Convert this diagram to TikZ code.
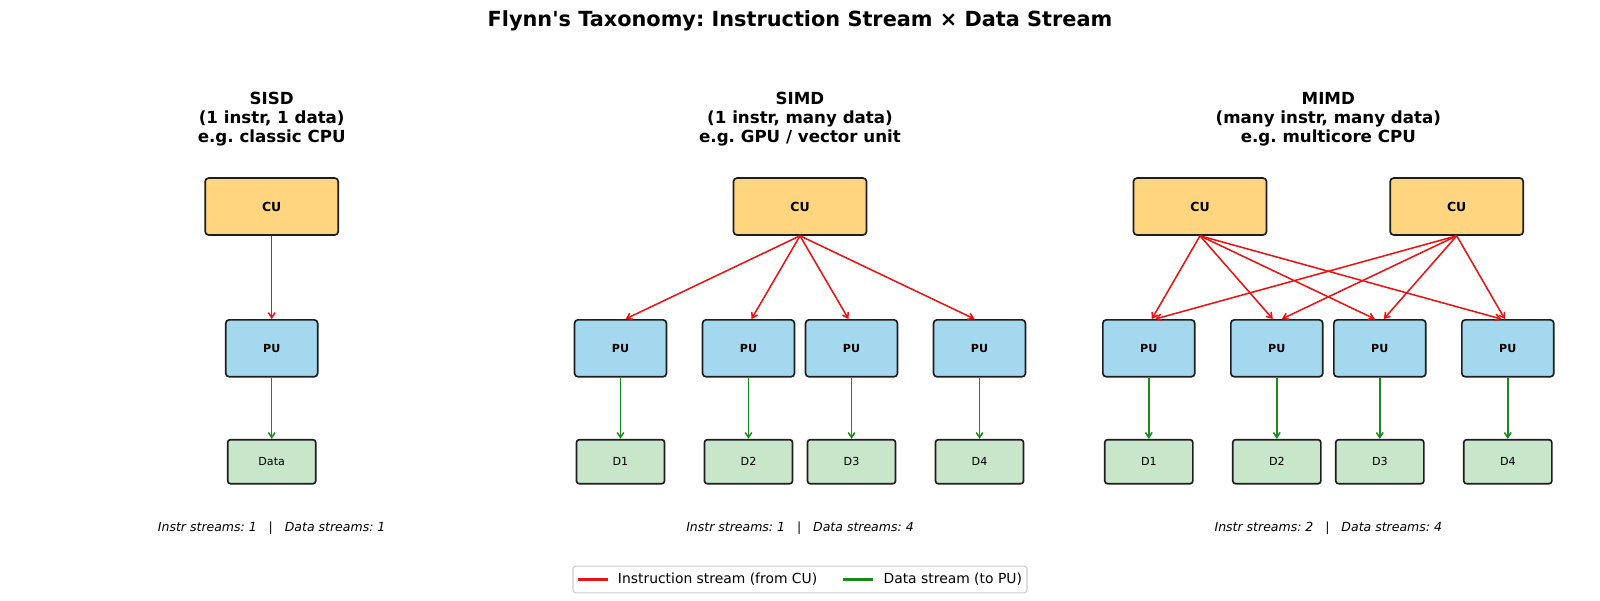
\documentclass[tikz,border=0pt]{standalone}
\usepackage{fontspec}
\setmainfont{DejaVu Sans}
\usetikzlibrary{arrows.meta,calc}
\frenchspacing
\definecolor{cufill}{HTML}{FFD580}
\definecolor{pufill}{HTML}{A3D8EE}
\definecolor{datafill}{HTML}{C8E6C9}
\definecolor{edge}{HTML}{1E1E1E}
\definecolor{instr}{HTML}{F01010}
\definecolor{dstream}{HTML}{1A8A1A}
\tikzset{
  cubox/.style={draw=edge,line width=1.2pt,rounded corners=2.5pt,fill=cufill,minimum width=95.8pt,minimum height=41pt,inner sep=0pt,font=\fontsize{9}{11}\selectfont\bfseries},
  pubox/.style={draw=edge,line width=1.2pt,rounded corners=2.5pt,fill=pufill,minimum width=66.2pt,minimum height=41pt,inner sep=0pt,font=\fontsize{8}{10}\selectfont\bfseries},
  databox/.style={draw=edge,line width=1.2pt,rounded corners=2pt,fill=datafill,minimum width=63.4pt,minimum height=31.7pt,inner sep=0pt,font=\fontsize{8}{10}\selectfont},
  iarrow/.style={draw=instr,line width=1.1pt,-{Straight Barb[length=3.6pt,width=4.8pt]}},
  darrow/.style={draw=dstream,line width=1.1pt,-{Straight Barb[length=3.6pt,width=4.8pt]}},
  ptitle/.style={align=center,font=\fontsize{12}{13.7}\selectfont\bfseries},
  caption/.style={font=\fontsize{9}{11}\selectfont\itshape},
  legtext/.style={anchor=west,font=\fontsize{10}{12}\selectfont,inner sep=0pt}
}
\begin{document}
\begin{tikzpicture}[x=0.72pt,y=-0.72pt]
\path[use as bounding box,fill=white] (0,0) rectangle (1600,600);
% title
\node[font=\fontsize{15}{18}\selectfont\bfseries] (title) at (800,21) {Flynn\textquotesingle s Taxonomy: Instruction Stream × Data Stream};
% panel titles
\node[ptitle] (t1) at (271.7,119.5) {SISD\\(1 instr, 1 data)\\e.g. classic CPU};
\node[ptitle] (t2) at (800,119.5) {SIMD\\(1 instr, many data)\\e.g. GPU / vector unit};
\node[ptitle] (t3) at (1328.3,119.5) {MIMD\\(many instr, many data)\\e.g. multicore CPU};
% SISD
\node[cubox] (c0) at (271.7,206.5) {CU};
\node[pubox] (p0) at (271.7,348.3) {PU};
\node[databox] (d0) at (271.7,461.7) {Data};
\draw[iarrow] (c0.south) -- (p0.north);
\draw[darrow] (p0.south) -- (d0.north);
% SIMD
\node[cubox] (cs) at (800,206.5) {CU};
\foreach \i/\x in {1/620.5,2/748.5,3/851.5,4/979.5}{
  \node[pubox] (sp\i) at (\x,348.3) {PU};
  \node[databox] (sd\i) at (\x,461.7) {D\i};
  \draw[darrow] (sp\i.south) -- (sd\i.north);
}
\foreach \i/\o in {1/5,2/3,3/-3,4/-5}{
  \draw[iarrow] (cs.south) -- ($(sp\i.north)+(\o,0)$);
}
% MIMD
\node[cubox] (mc1) at (1200,206.5) {CU};
\node[cubox] (mc2) at (1456.7,206.5) {CU};
\foreach \i/\x in {1/1148.8,2/1276.8,3/1379.8,4/1507.8}{
  \node[pubox] (mp\i) at (\x,348.3) {PU};
  \node[databox] (md\i) at (\x,461.7) {D\i};
  \draw[darrow] (mp\i.south) -- (md\i.north);
}
\foreach \i/\o in {1/3,2/-4,3/-5,4/-6.5}{
  \draw[iarrow] (mc1.south) -- ($(mp\i.north)+(\o,0)$);
}
\foreach \i/\o in {1/6.5,2/5,3/4,4/-3}{
  \draw[iarrow] (mc2.south) -- ($(mp\i.north)+(\o,0)$);
}
% captions
\node[caption] (k1) at (271.7,528) {Instr streams: 1~~~|~~~Data streams: 1};
\node[caption] (k2) at (800,528) {Instr streams: 1~~~|~~~Data streams: 4};
\node[caption] (k3) at (1328.3,528) {Instr streams: 2~~~|~~~Data streams: 4};
% legend
\node[draw=black!20,line width=0.8pt,rounded corners=2pt,fill=white,minimum width=326.9pt,minimum height=19.2pt,inner sep=0pt] (leg) at (800,579.5) {};
\coordinate (r1) at (578.3,579.5);
\coordinate (r2) at (608.3,579.5);
\coordinate (g1) at (843.3,579.5);
\coordinate (g2) at (873.3,579.5);
\draw[instr,line width=1.5pt] (r1) -- (r2);
\draw[dstream,line width=1.5pt] (g1) -- (g2);
\node[legtext] (l1) at (617.7,579.5) {Instruction stream (from CU)};
\node[legtext] (l2) at (883.3,579.5) {Data stream (to PU)};
\end{tikzpicture}
\end{document}
